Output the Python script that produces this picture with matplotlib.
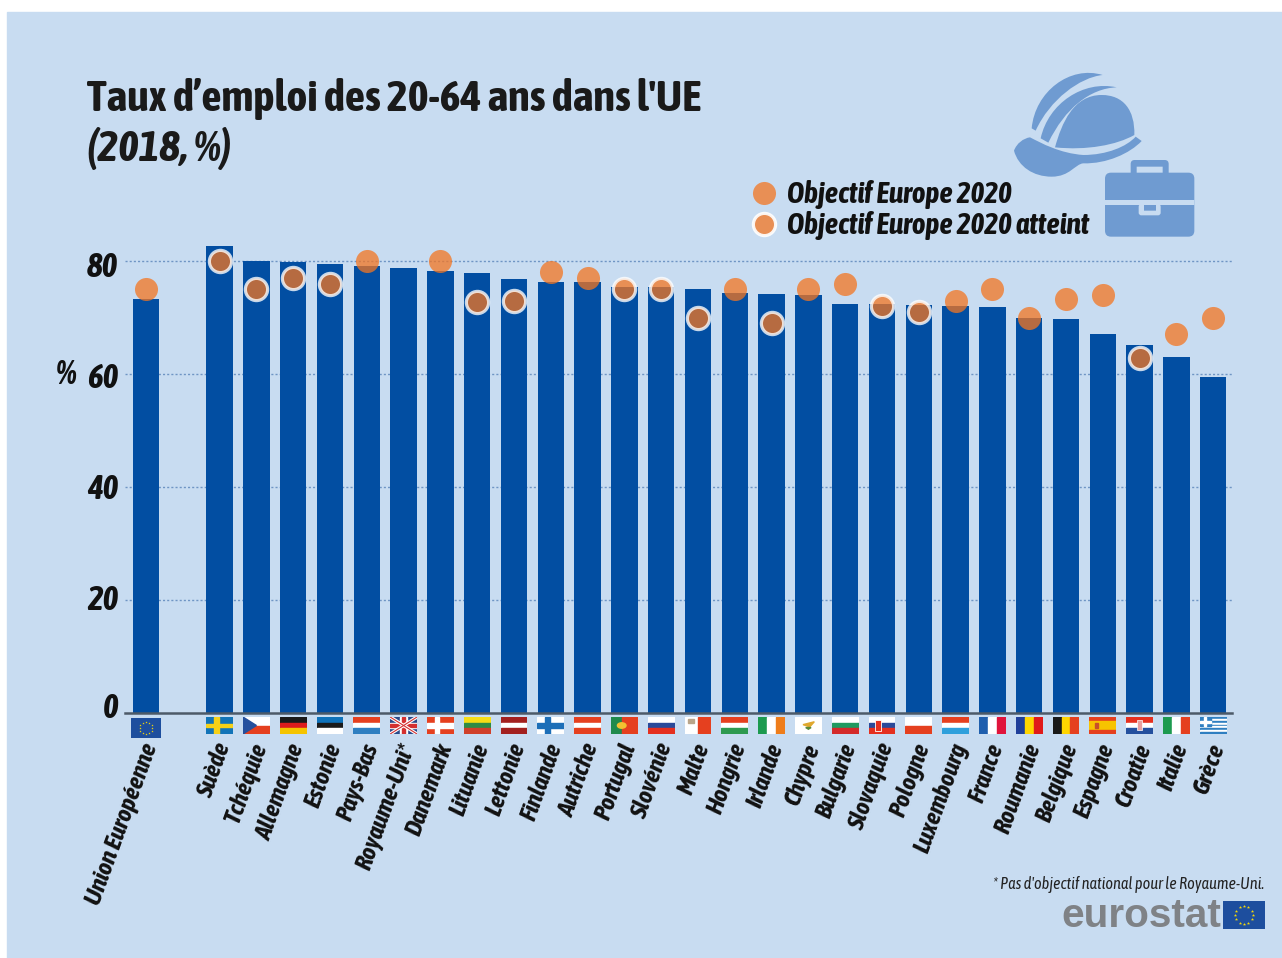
import numpy as np
import matplotlib
matplotlib.use("Agg")
import matplotlib.pyplot as plt
from matplotlib.path import Path as MPath
from matplotlib.patches import PathPatch, Rectangle, FancyBboxPatch, Polygon, Circle
from matplotlib.transforms import ScaledTranslation

plt.rcParams["font.family"] = ["Asap Condensed", "Barlow Condensed", "Liberation Sans", "DejaVu Sans"]

countries = ["Union Européenne", "Suède", "Tchéquie", "Allemagne", "Estonie", "Pays-Bas",
             "Royaume-Uni*", "Danemark", "Lituanie", "Lettonie", "Finlande", "Autriche",
             "Portugal", "Slovénie", "Malte", "Hongrie", "Irlande", "Chypre", "Bulgarie",
             "Slovaquie", "Pologne", "Luxembourg", "France", "Roumanie", "Belgique",
             "Espagne", "Croatie", "Italie", "Grèce"]
rates = [73.2, 82.6, 80.0, 79.9, 79.5, 79.2, 78.7, 78.2, 77.8, 76.8, 76.3, 76.2, 75.4, 75.4,
         75.0, 74.4, 74.1, 73.9, 72.4, 72.4, 72.2, 72.1, 71.8, 69.9, 69.7, 67.0, 65.2, 63.0, 59.5]
# nan = no national target (UK)
targets = [75, 80, 75, 77, 76, 80, np.nan, 80, 72.8, 73, 78, 77, 75, 75, 70, 75, 69, 75, 76,
           72, 71, 73, 75, 70, 73.2, 74, 62.9, 67, 70]
reached = ["Suède", "Tchéquie", "Allemagne", "Estonie", "Lituanie", "Lettonie", "Portugal",
           "Slovénie", "Malte", "Irlande", "Slovaquie", "Pologne", "Croatie"]
y_ticks = [0, 20, 40, 60, 80]

# flag specs: (direction, colours)
flags = {
    "Tchéquie": "cz", "Suède": "se", "Danemark": "dk", "Finlande": "fi", "Royaume-Uni*": "uk",
    "Allemagne": ("h", ["#1a1a1a", "#dd1c1c", "#f5c400"]),
    "Estonie": ("h", ["#0f72ba", "#1a1a1a", "#ffffff"]),
    "Pays-Bas": ("h", ["#e5401f", "#ffffff", "#2f7fc1"]),
    "Lituanie": ("h", ["#f6dd16", "#2e8b45", "#d0402a"]),
    "Lettonie": ("h", ["#a3201f", "#ffffff", "#a3201f"]),
    "Autriche": ("h", ["#e5401f", "#ffffff", "#e5401f"]),
    "Portugal": ("v2", ["#1f8a4c", "#e5401f"]),
    "Slovénie": ("h", ["#ffffff", "#2a4a9a", "#e5301f"]),
    "Malte": ("v", ["#ffffff", "#e5401f"]),
    "Hongrie": ("h", ["#e5401f", "#ffffff", "#2e9a50"]),
    "Irlande": ("v", ["#1d9a4f", "#ffffff", "#ef7d1a"]),
    "Chypre": ("v", ["#ffffff"]),
    "Bulgarie": ("h", ["#ffffff", "#1f9a60", "#d42a2a"]),
    "Slovaquie": ("h", ["#ffffff", "#2a4a9a", "#e5301f"]),
    "Pologne": ("h", ["#ffffff", "#e5401f"]),
    "Luxembourg": ("h", ["#e5401f", "#ffffff", "#2fa0dc"]),
    "France": ("v", ["#1f5fae", "#ffffff", "#e0143c"]),
    "Roumanie": ("v", ["#1f3f9a", "#ffd500", "#e01a1a"]),
    "Belgique": ("v", ["#1a1a1a", "#ffd500", "#e5401f"]),
    "Espagne": ("h", ["#e5401f", "#f7c400", "#f7c400", "#e5401f"]),
    "Croatie": ("h", ["#e5301f", "#ffffff", "#24509e"]),
    "Italie": ("v", ["#1d9a4f", "#ffffff", "#e5401f"]),
}

BG = "#c8dcf1"
BAR = "#024ea2"
ICON = "#6f9bd1"
DOT = (0.957, 0.459, 0.129, 0.75)
W, H = 1282, 958


def draw_flag(fa, name):
    fa.set_xlim(0, 1)
    fa.set_ylim(0, 1)
    fa.axis("off")
    spec = flags.get(name)
    if spec == "se":
        fa.add_patch(Rectangle((0, 0), 1, 1, color="#1274b8"))
        fa.add_patch(Rectangle((0.3, 0), 0.16, 1, color="#f7d117"))
        fa.add_patch(Rectangle((0, 0.4), 1, 0.2, color="#f7d117"))
    elif spec in ("dk", "fi"):
        back, cross = ("#e5401f", "#ffffff") if spec == "dk" else ("#ffffff", "#1d6fb8")
        fa.add_patch(Rectangle((0, 0), 1, 1, color=back))
        fa.add_patch(Rectangle((0.3, 0), 0.16, 1, color=cross))
        fa.add_patch(Rectangle((0, 0.38), 1, 0.24, color=cross))
    elif spec == "cz":
        fa.add_patch(Rectangle((0, 0.5), 1, 0.5, color="#ffffff"))
        fa.add_patch(Rectangle((0, 0), 1, 0.5, color="#e5401f"))
        fa.add_patch(Polygon([(0, 0), (0.5, 0.5), (0, 1)], color="#24509e"))
    elif spec == "uk":
        fa.add_patch(Rectangle((0, 0), 1, 1, color="#2a4a8a"))
        fa.plot([0, 1], [0, 1], color="#ffffff", lw=2.4, solid_capstyle="butt")
        fa.plot([0, 1], [1, 0], color="#ffffff", lw=2.4, solid_capstyle="butt")
        fa.plot([0, 1], [0, 1], color="#d43030", lw=0.8, solid_capstyle="butt")
        fa.plot([0, 1], [1, 0], color="#d43030", lw=0.8, solid_capstyle="butt")
        fa.add_patch(Rectangle((0.38, 0), 0.24, 1, color="#ffffff"))
        fa.add_patch(Rectangle((0, 0.33), 1, 0.34, color="#ffffff"))
        fa.add_patch(Rectangle((0.44, 0), 0.12, 1, color="#d43030"))
        fa.add_patch(Rectangle((0, 0.41), 1, 0.18, color="#d43030"))
    else:
        kind, cols = spec
        n = len(cols)
        for j, c in enumerate(cols):
            if kind == "h":
                fa.add_patch(Rectangle((0, 1 - (j + 1) / n), 1, 1 / n, color=c))
            elif kind == "v":
                fa.add_patch(Rectangle((j / n, 0), 1 / n, 1, color=c))
            else:
                split = 0.4
                fa.add_patch(Rectangle((0, 0), split, 1, color=cols[0]))
                fa.add_patch(Rectangle((split, 0), 1 - split, 1, color=cols[1]))
        if name == "Portugal":
            fa.add_patch(Circle((0.4, 0.5), 0.16, color="#f2c230", zorder=3))
        if name == "Malte":
            fa.add_patch(Rectangle((0.14, 0.62), 0.2, 0.26, color="#b9a58a"))
        if name == "Chypre":
            fa.add_patch(Polygon([(0.3, 0.55), (0.72, 0.72), (0.55, 0.42)], color="#e0a82e"))
            fa.add_patch(Polygon([(0.4, 0.38), (0.6, 0.38), (0.5, 0.28)], color="#5a8a3a"))
        if name == "Slovaquie":
            fa.add_patch(Rectangle((0.24, 0.18), 0.24, 0.62, color="#e5301f", ec="#ffffff", lw=0.6, zorder=3))
        if name == "Croatie":
            fa.add_patch(Rectangle((0.4, 0.22), 0.2, 0.6, color="#e8a0a0", ec="#ffffff", lw=0.5, zorder=3))
        if name == "Espagne":
            fa.add_patch(Rectangle((0.2, 0.35), 0.12, 0.3, color="#c8502a", zorder=3))


def draw_greek(fa):
    fa.set_xlim(0, 1)
    fa.set_ylim(0, 1)
    fa.axis("off")
    for j in range(9):
        c = "#2f7fc1" if j % 2 == 0 else "#ffffff"
        fa.add_patch(Rectangle((0, 1 - (j + 1) / 9), 1, 1 / 9, color=c))
    fa.add_patch(Rectangle((0, 4 / 9), 0.4, 5 / 9, color="#2f7fc1"))
    fa.add_patch(Rectangle((0.15, 4 / 9), 0.1, 5 / 9, color="#ffffff"))
    fa.add_patch(Rectangle((0, 0.66), 0.4, 1 / 9, color="#ffffff"))


def draw_eu(fa, star_size):
    fa.set_xlim(-1.5, 1.5)
    fa.set_ylim(-1, 1)
    fa.axis("off")
    fa.add_patch(Rectangle((-1.5, -1), 3, 2, color="#1d4e9e"))
    t = np.arange(12) * np.pi / 6
    fa.scatter(0.62 * np.cos(t), 0.62 * np.sin(t), s=star_size, color="#f5d90a", marker="*", lw=0)


def zpath(points, codes):
    # points are in zoomed icon coordinates (3x, origin 740,60)
    pts = [(740 + x / 3, 60 + y / 3) for x, y in points]
    return PathPatch(MPath(pts, codes), fc=ICON, ec="none")


M, C, L, Z = MPath.MOVETO, MPath.CURVE4, MPath.LINETO, MPath.CLOSEPOLY


def draw_icons(deco):
    # helmet dome
    deco.add_patch(zpath([(945, 262), (965, 190), (1000, 105), (1085, 105), (1150, 105), (1185, 150),
                          (1183, 225), (1130, 255), (1040, 272), (945, 262), (945, 262)],
                         [M, C, C, C, C, C, C, C, C, C, Z]))
    # inner stripe
    deco.add_patch(zpath([(902, 235), (925, 130), (1030, 60), (1130, 82), (1050, 85), (975, 145),
                          (925, 248), (902, 235), (902, 235)],
                         [M, C, C, C, C, C, C, L, Z]))
    # outer stripe
    deco.add_patch(zpath([(875, 205), (885, 95), (990, 15), (1088, 45), (1020, 52), (930, 118),
                          (887, 212), (875, 205), (875, 205)],
                         [M, C, C, C, C, C, C, L, Z]))
    # brim
    deco.add_patch(zpath([(822, 272), (830, 250), (850, 235), (870, 232), (905, 250), (960, 280),
                          (1030, 285), (1100, 285), (1160, 260), (1187, 230), (1205, 243), (1170, 280),
                          (1100, 312), (1030, 310), (1005, 312), (990, 350), (935, 350), (880, 350),
                          (835, 320), (822, 272), (822, 272)],
                         [M, C, C, C, C, C, C, C, C, C, L, C, C, C, C, C, C, C, C, C, Z]))

    # briefcase
    def rbox(x0, y0, x1, y1, r, color):
        deco.add_patch(FancyBboxPatch((740 + (x0 + r) / 3, 60 + (y0 + r) / 3), (x1 - x0 - 2 * r) / 3,
                                      (y1 - y0 - 2 * r) / 3, boxstyle=f"round,pad={r / 3}", fc=color, ec="none"))
    rbox(1172, 300, 1286, 370, 12, ICON)
    rbox(1190, 320, 1268, 345, 0.1, BG)
    rbox(1095, 338, 1363, 530, 18, ICON)
    rbox(1095, 420, 1363, 435, 0.1, BG)
    rbox(1196, 432, 1262, 466, 8, BG)
    rbox(1212, 435, 1248, 452, 0.1, ICON)


def main():
    fig = plt.figure(figsize=(W / 100, H / 100), dpi=100, facecolor="white")

    deco = fig.add_axes([0, 0, 1, 1], zorder=0)
    deco.set_xlim(0, W)
    deco.set_ylim(H, 0)
    deco.axis("off")
    deco.add_patch(Rectangle((7, 12), W - 7, H - 12, color=BG))
    draw_icons(deco)

    # axes box: x 125..1232 px, baseline at 713
    top_px, base_px = 205, 713
    ax = fig.add_axes([125 / W, 1 - base_px / H, (1232 - 125) / W, (base_px - top_px) / H], zorder=1)
    ax.patch.set_alpha(0)
    px_per_pos = 36.8
    eu_px = 146
    x_pos = [0] + list(range(2, len(countries) + 1))
    ax.set_xlim((125 - eu_px) / px_per_pos, (1232 - eu_px) / px_per_pos)
    ax.set_ylim(0, (base_px - top_px) / 5.65)

    ax.bar(x_pos, rates, width=0.72, color=BAR, zorder=2)
    for v in y_ticks[1:]:
        ax.axhline(v, color="#6f95c4", lw=1, ls=(0, (1.5, 1.5)), zorder=1)

    for x, v, name in zip(x_pos, targets, countries):
        if np.isnan(v):
            continue
        if name in reached:
            ax.plot(x, v, "o", ms=16.0, mfc=DOT, mec=(1, 1, 1, 0.78), mew=2.3, clip_on=False, zorder=4)
        else:
            ax.plot(x, v, "o", ms=16.6, mfc=DOT, mec="none", clip_on=False, zorder=4)

    for s in ["top", "right", "left"]:
        ax.spines[s].set_visible(False)
    ax.spines["bottom"].set_color("#4d5a68")
    ax.spines["bottom"].set_linewidth(1.8)
    ax.set_xticks([])
    ax.set_yticks(y_ticks)
    ax.set_yticklabels([str(v) for v in y_ticks], fontsize=24, fontweight="bold", fontstyle="italic", color="#111111")
    ax.tick_params(axis="y", length=0, pad=5)
    # labels do not sit exactly on their gridlines in the original (points, + is up)
    for label, dy in zip(ax.get_yticklabels(), [5.5, 2.2, 0.7, -0.7, -2.2]):
        label.set_transform(label.get_transform() + ScaledTranslation(0, dy / 72, fig.dpi_scale_trans))

    for x, name in zip(x_pos, countries):
        ax.annotate(name, xy=(x, 0), xytext=(-4, -19.5), xycoords=("data", "data"), textcoords="offset points",
                    rotation=70, ha="right", va="top", rotation_mode="anchor", fontsize=17.8,
                    fontweight="bold", fontstyle="italic", color="#111111", annotation_clip=False)

    # flags hang below the baseline
    h_ax = base_px - top_px
    for x, name in zip(x_pos, countries):
        if name == "Union Européenne":
            fa = ax.inset_axes([x - 0.42, -25 / h_ax, 0.84, 20 / h_ax], transform=ax.get_xaxis_transform())
            draw_eu(fa, 3)
        else:
            fa = ax.inset_axes([x - 0.365, -21 / h_ax, 0.73, 17 / h_ax], transform=ax.get_xaxis_transform())
            if name == "Grèce":
                draw_greek(fa)
            else:
                draw_flag(fa, name)

    over = fig.add_axes([0, 0, 1, 1], zorder=2)
    over.set_xlim(0, W)
    over.set_ylim(H, 0)
    over.axis("off")
    over.patch.set_alpha(0)
    over.text(87, 111, "Taux d’emploi des 20-64 ans dans l'UE", fontsize=32, fontweight="bold", color="#1a1a1a", va="baseline")
    over.text(87, 161, "(2018, %)", fontsize=31.5, fontweight="bold", fontstyle="italic", color="#1a1a1a", va="baseline")
    over.text(56, 375, "%", fontsize=24, fontweight="bold", fontstyle="italic", va="center", color="#111111")

    over.plot(764, 193, "o", ms=16.6, mfc=DOT, mec="none")
    over.plot(764, 224, "o", ms=16.0, mfc=DOT, mec=(1, 1, 1, 0.9), mew=2.3)
    over.text(787, 203, "Objectif Europe 2020", fontsize=21.2, fontweight="bold", fontstyle="italic", color="#111111", va="baseline")
    over.text(787, 234, "Objectif Europe 2020 atteint", fontsize=21.2, fontweight="bold", fontstyle="italic", color="#111111", va="baseline")

    over.text(1264, 889, "* Pas d'objectif national pour le Royaume-Uni.", fontsize=11.7, fontstyle="italic",
              ha="right", va="baseline", color="#222222")
    over.text(1221, 927, "eurostat", fontsize=29.2, fontweight="bold", family=["Liberation Sans"], color="#7f8286",
              ha="right", va="baseline")
    logo = fig.add_axes([1223 / W, 1 - 929 / H, 42 / W, 28 / H], zorder=3)
    draw_eu(logo, 6)

    fig.savefig("out.png", dpi=100, facecolor="white")


if __name__ == "__main__":
    main()
